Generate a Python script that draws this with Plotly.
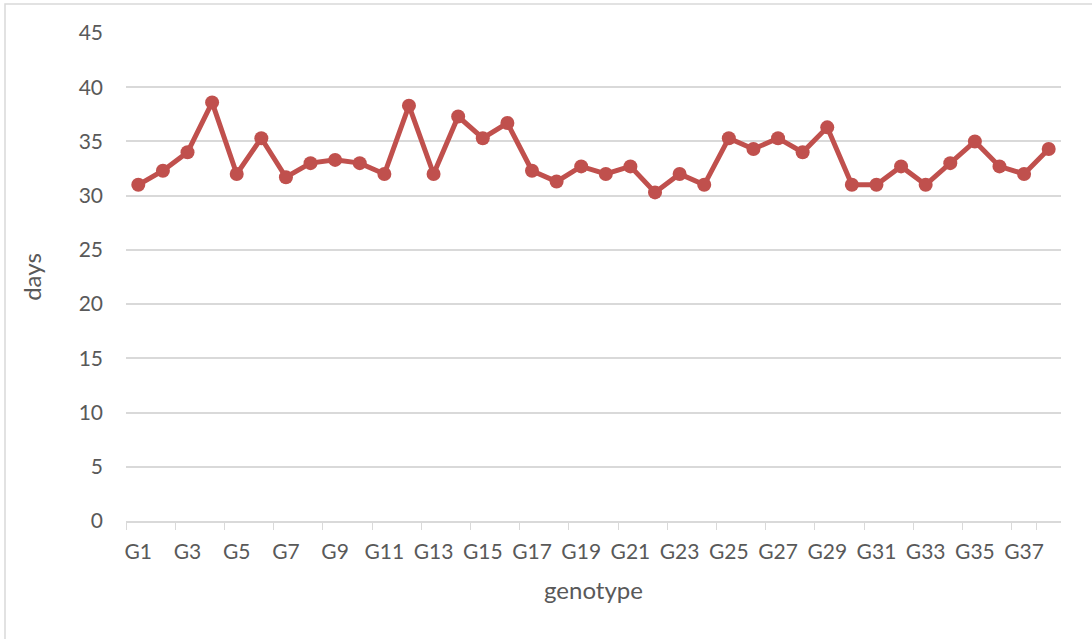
import plotly.graph_objects as go

genotypes = [f"G{i}" for i in range(1, 39)]
days = [31.0, 32.3, 34.0, 38.6, 32.0, 35.3, 31.7, 33.0, 33.3, 33.0,
        32.0, 38.3, 32.0, 37.3, 35.3, 36.7, 32.3, 31.3, 32.7, 32.0,
        32.7, 30.3, 32.0, 31.0, 35.3, 34.3, 35.3, 34.0, 36.3, 31.0,
        31.0, 32.7, 31.0, 33.0, 35.0, 32.7, 32.0, 34.3]
y_ticks = list(range(0, 50, 5))

FONT = "Lato"
GREY = "#595959"

fig = go.Figure()
fig.add_trace(go.Scatter(
    x=genotypes, y=days, mode="lines+markers",
    line=dict(color="#C0504D", width=5),
    marker=dict(color="#C0504D", size=14),
    showlegend=False,
))

fig.update_layout(
    width=1092, height=639,
    margin=dict(l=126, r=31, t=33, b=118),
    paper_bgcolor="white", plot_bgcolor="white",
    font=dict(family=FONT, color=GREY, size=21),
    xaxis=dict(
        type="category", tickmode="array",
        tickvals=genotypes[::2], ticktext=genotypes[::2],
        tickson="boundaries", ticks="outside", ticklen=7, tickcolor="#d9d9d9",
        showline=True, linecolor="#d9d9d9", linewidth=1.5,
        showgrid=False, range=[-0.5, 37.5], tickangle=0, automargin=False,
        title=dict(text="genotype", standoff=20, font=dict(size=24, color=GREY)),
        tickfont=dict(size=21, color=GREY), ticklabelstandoff=11,
    ),
    yaxis=dict(
        range=[0, 45], tickvals=y_ticks, showgrid=True, gridcolor="#d9d9d9", gridwidth=1.5,
        zeroline=False, showline=False, ticks="", automargin=False,
        title=dict(text="days", standoff=30, font=dict(size=24, color=GREY)),
        tickfont=dict(size=21, color=GREY), ticklabelstandoff=22,
    ),
    shapes=[dict(type="rect", xref="paper", yref="paper",
                 x0=(5 - 126) / 935, x1=(1100 - 126) / 935,
                 y0=(521 - 645) / 488, y1=(521 - 4) / 488,
                 line=dict(color="#d9d9d9", width=1.5), layer="below")],
)

fig.write_html("out.html", config={"displayModeBar": False},
               post_script="document.body.style.margin='0';")
